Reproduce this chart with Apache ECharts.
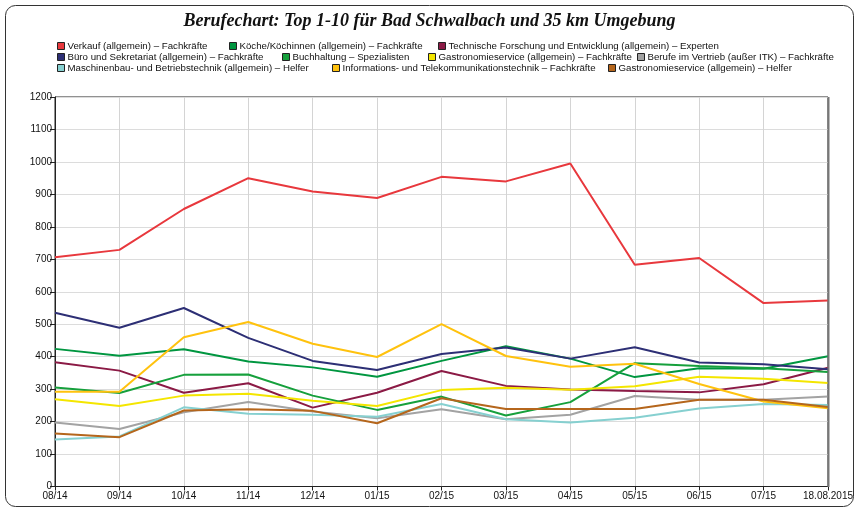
<!DOCTYPE html>
<html>
<head>
<meta charset="utf-8">
<script src="https://cdn.jsdelivr.net/npm/echarts@6/dist/echarts.min.js"></script>
<style>html,body{margin:0;padding:0;background:#fff}#c{width:859px;height:511px}</style>
</head>
<body>
<div id="c"></div>
<script>
const categories = ['08/14','09/14','10/14','11/14','12/14','01/15','02/15','03/15','04/15','05/15','06/15','07/15','18.08.2015'];
const yTicks = [0,100,200,300,400,500,600,700,800,900,1000,1100,1200];

const names = [
  'Verkauf (allgemein) – Fachkräfte',
  'Köche/Köchinnen (allgemein) – Fachkräfte',
  'Technische Forschung und Entwicklung (allgemein) – Experten',
  'Büro und Sekretariat (allgemein) – Fachkräfte',
  'Buchhaltung – Spezialisten',
  'Gastronomieservice (allgemein) – Fachkräfte',
  'Berufe im Vertrieb (außer ITK) – Fachkräfte',
  'Maschinenbau- und Betriebstechnik (allgemein) – Helfer',
  'Informations- und Telekommunikationstechnik – Fachkräfte',
  'Gastronomieservice (allgemein) – Helfer'
];

const verkauf        = [706, 729, 855, 950, 909, 889, 954, 940, 995, 683, 704, 565, 573];
const koeche         = [424, 403, 423, 385, 367, 338, 387, 432, 394, 337, 364, 363, 401];
const technische     = [383, 357, 289, 318, 243, 289, 356, 310, 299, 294, 290, 315, 366];
const buero          = [535, 489, 550, 458, 387, 359, 408, 428, 394, 429, 382, 377, 361];
const buchhaltung    = [305, 288, 344, 345, 280, 236, 277, 219, 260, 380, 371, 364, 353];
const gastroFach     = [269, 248, 280, 286, 264, 248, 297, 304, 298, 309, 338, 332, 319];
const vertrieb       = [197, 177, 229, 260, 231, 210, 238, 207, 221, 279, 267, 267, 277];
const maschinenbau   = [145, 154, 244, 224, 221, 215, 254, 207, 197, 212, 240, 254, 251];
const informations   = [292, 292, 460, 507, 440, 399, 500, 402, 369, 378, 316, 262, 241];
const gastroHelfer   = [163, 152, 234, 238, 233, 195, 272, 239, 239, 239, 267, 267, 245];

const seriesData = [verkauf, koeche, technische, buero, buchhaltung, gastroFach, vertrieb, maschinenbau, informations, gastroHelfer];
const colors = ['#e8383d','#009640','#8b1a45','#2d2f75','#16a03c','#f4e600','#a3a3a3','#86d0d0','#ffc20e','#b5661c'];

// legend placement (left x, row)
const legendPos = [[57,0],[229,0],[438,0],[57,1],[282,1],[428,1],[637,1],[57,2],[332,2],[608,2]];
const rowY = [46, 57, 68];

const chart = echarts.init(document.getElementById('c'), null, {renderer:'canvas'});

const legends = names.map((n,i)=>({
  data:[n],
  left: legendPos[i][0],
  top: rowY[legendPos[i][1]] - 5,
  padding: 0,
  icon: 'rect',
  itemWidth: 7,
  itemHeight: 7,
  itemGap: 4,
  selectedMode: false,
  itemStyle: {borderColor:'#222', borderWidth:1},
  textStyle: {fontFamily:'Liberation Sans', fontSize:9.7, color:'#111', lineHeight:10, padding:[0,0,0,-2]}
}));

chart.setOption({
  animation: false,
  color: colors,
  title: {
    text: 'Berufechart: Top 1-10 für Bad Schwalbach und 35 km Umgebung',
    left: 'center',
    top: 7,
    textStyle: {fontFamily:'Liberation Serif', fontStyle:'italic', fontWeight:'bold', fontSize:18, color:'#111'}
  },
  legend: legends,
  grid: {left:55, right:31, top:97, bottom:24.5, show:true, borderColor:'#222', borderWidth:1, containLabel:false},
  xAxis: {
    type:'category',
    data: categories,
    boundaryGap:false,
    axisLine:{lineStyle:{color:'#222'}},
    axisTick:{show:true, length:4, lineStyle:{color:'#222'}},
    axisLabel:{fontFamily:'Liberation Sans', fontSize:10, color:'#111', margin:5, interval:0},
    splitLine:{show:true, lineStyle:{color:'#d4d4d4', width:1}}
  },
  yAxis: {
    type:'value',
    min: yTicks[0],
    max: yTicks[yTicks.length-1],
    interval: 100,
    axisLine:{show:true, lineStyle:{color:'#222'}},
    axisTick:{show:true, length:5, lineStyle:{color:'#222'}},
    axisLabel:{fontFamily:'Liberation Sans', fontSize:10, color:'#111', margin:3, formatter: v => String(v)},
    splitLine:{show:true, lineStyle:{color:'#dcdcdc', width:1}}
  },
  graphic: [
    {type:'rect', shape:{x:5.5, y:5.5, width:848, height:501, r:10}, style:{fill:'none', stroke:'#333', lineWidth:1}, z:-1, silent:true},
    {type:'line', shape:{x1:828.5, y1:97, x2:828.5, y2:487}, style:{stroke:'#777', lineWidth:2}, z:5, silent:true}
  ],
  series: names.map((n,i)=>({
    name:n,
    type:'line',
    data: seriesData[i],
    symbol:'none',
    lineStyle:{width:2, color:colors[i]},
    itemStyle:{color:colors[i]}
  }))
});
</script>
</body>
</html>
